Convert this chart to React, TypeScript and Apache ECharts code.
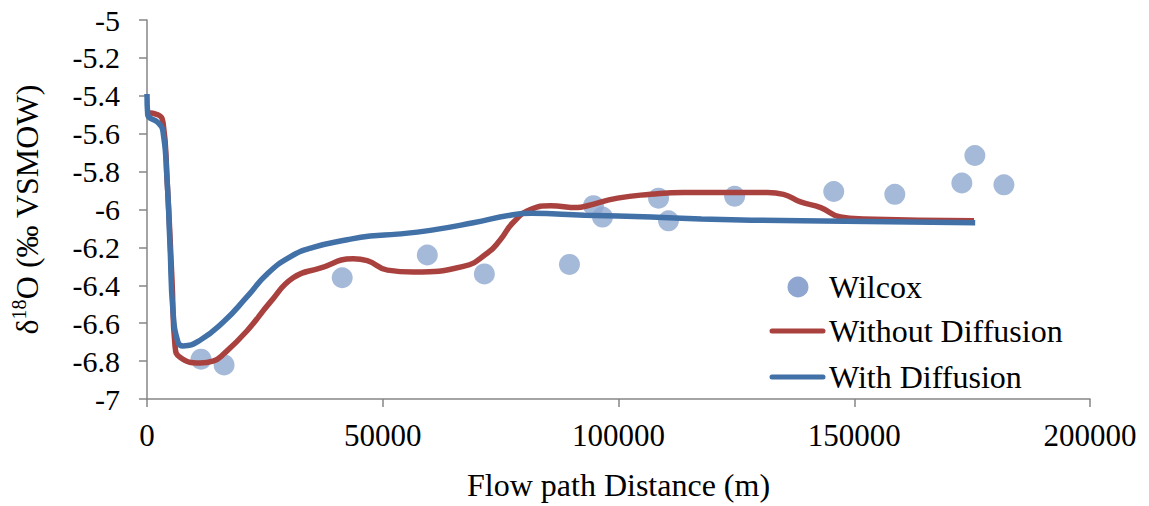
import React, { useEffect, useRef } from "react";
import * as echarts from "echarts";

const wilcoxX = [11460, 16350, 41400, 59450, 71550, 89600, 94690, 96600, 108490, 110600, 124630, 145650, 158600, 172820, 175580, 181740];
const wilcoxY = [-6.79, -6.82, -6.36, -6.24, -6.34, -6.29, -5.98, -6.04, -5.94, -6.06, -5.93, -5.905, -5.92, -5.86, -5.715, -5.87];

const withoutX = [0, 2300, 3400, 4250, 5300, 5950, 7000, 11250, 14000, 16350, 21230, 26100, 30990, 36700, 43740, 46700, 51000, 56500, 67100, 72200, 74940, 77600, 81300, 85600, 91300, 93400, 99800, 106800, 113800, 124400, 131600, 135000, 138600, 142900, 147100, 152000, 175400];
const withoutY = [-5.49, -5.5, -5.54, -5.84, -6.37, -6.72, -6.78, -6.81, -6.8, -6.76, -6.64, -6.49, -6.36, -6.31, -6.26, -6.27, -6.32, -6.33, -6.3, -6.23, -6.16, -6.07, -6.0, -5.98, -5.99, -5.98, -5.94, -5.92, -5.91, -5.91, -5.91, -5.92, -5.96, -5.99, -6.04, -6.05, -6.06];

const withX = [0, 150, 2300, 3400, 4250, 4880, 5520, 6580, 7640, 11250, 16350, 21230, 25480, 30360, 35240, 42460, 47340, 53070, 60080, 69200, 77050, 81500, 92800, 107000, 117600, 138800, 175650];
const withY = [-5.39, -5.5, -5.54, -5.59, -5.84, -6.19, -6.54, -6.7, -6.72, -6.69, -6.59, -6.46, -6.34, -6.25, -6.2, -6.16, -6.14, -6.13, -6.11, -6.07, -6.03, -6.02, -6.03, -6.04, -6.05, -6.06, -6.07];

const seriesNames = ["Wilcox", "Without Diffusion", "With Diffusion"];
const xTicks = { min: 0, max: 200000, interval: 50000 };
const yTicks = { min: -7, max: -5, interval: 0.2 };

const zip = (xs: number[], ys: number[]) => xs.map((x, i) => [x, ys[i]]);

const FONT = "Liberation Serif";
const C_DOT = "#8FA7D0";
const C_RED = "#A9423F";
const C_BLUE = "#4271A8";

export default function App() {
  const ref = useRef<HTMLDivElement>(null);
  useEffect(() => {
    const chart = echarts.init(ref.current!, null, { renderer: "svg" });
    const legendRows = [287, 331, 377];
    chart.setOption({
      animation: false,
      backgroundColor: "#ffffff",
      textStyle: { fontFamily: FONT, color: "#000" },
      grid: { left: 147, right: 59, top: 20, bottom: 106, containLabel: false },
      graphic: [
        { type: "circle", shape: { cx: 798, cy: legendRows[0], r: 10.5 }, style: { fill: C_DOT } },
        { type: "line", shape: { x1: 772, y1: legendRows[1], x2: 823, y2: legendRows[1] }, style: { stroke: C_RED, lineWidth: 5, lineCap: "round" } },
        { type: "line", shape: { x1: 772, y1: legendRows[2], x2: 823, y2: legendRows[2] }, style: { stroke: C_BLUE, lineWidth: 5, lineCap: "round" } },
        ...seriesNames.map((n, i) => ({
          type: "text",
          x: 829,
          y: legendRows[i],
          style: { text: n, fontFamily: FONT, fontSize: 32, fill: "#000", verticalAlign: "middle", align: "left" },
        })),
      ],
      xAxis: {
        type: "value",
        min: xTicks.min,
        max: xTicks.max,
        interval: xTicks.interval,
        name: "Flow path Distance (m)",
        nameLocation: "middle",
        nameGap: 70,
        nameTextStyle: { fontFamily: FONT, fontSize: 32, color: "#000" },
        axisLine: { show: true, onZero: false, lineStyle: { color: "#868686", width: 1.5 } },
        axisTick: { show: true, length: 8, lineStyle: { color: "#868686", width: 1.5 } },
        axisLabel: { fontFamily: FONT, fontSize: 31, color: "#000", margin: 21, formatter: (v: number) => String(v) },
        splitLine: { show: false },
      },
      yAxis: {
        type: "value",
        min: yTicks.min,
        max: yTicks.max,
        interval: yTicks.interval,
        name: "{n|δ}{s|18}{n|O (‰ VSMOW)}",
        nameLocation: "middle",
        nameRotate: 90,
        nameGap: 102,
        nameTextStyle: {
          fontFamily: FONT,
          fontSize: 32,
          color: "#000",
          rich: {
            n: { fontFamily: FONT, fontSize: 32, lineHeight: 36, color: "#000" },
            s: { fontFamily: FONT, fontSize: 20, lineHeight: 36, verticalAlign: "top", color: "#000" },
          },
        },
        axisLine: { show: true, onZero: false, lineStyle: { color: "#868686", width: 1.5 } },
        axisTick: { show: true, length: 8, lineStyle: { color: "#868686", width: 1.5 } },
        axisLabel: {
          fontFamily: FONT,
          fontSize: 30,
          color: "#000",
          margin: 27,
          formatter: (v: number) => String(Math.round(v * 10) / 10),
        },
        splitLine: { show: false },
      },
      series: [
        {
          name: seriesNames[0],
          type: "scatter",
          symbol: "circle",
          symbolSize: 21,
          itemStyle: { color: C_DOT },
          data: zip(wilcoxX, wilcoxY),
          z: 1,
        },
        {
          name: seriesNames[1],
          type: "line",
          symbol: "none",
          smooth: 0.5,
          lineStyle: { color: C_RED, width: 5.5 },
          itemStyle: { color: C_RED },
          data: zip(withoutX, withoutY),
          z: 2,
        },
        {
          name: seriesNames[2],
          type: "line",
          symbol: "none",
          smooth: 0.5,
          lineStyle: { color: C_BLUE, width: 5.5 },
          itemStyle: { color: C_BLUE },
          data: zip(withX, withY),
          z: 3,
        },
      ],
    });
    return () => chart.dispose();
  }, []);
  return (
    <div
      ref={ref}
      style={{ position: "fixed", left: 0, top: 0, width: 1149, height: 506, background: "#fff" }}
    />
  );
}
